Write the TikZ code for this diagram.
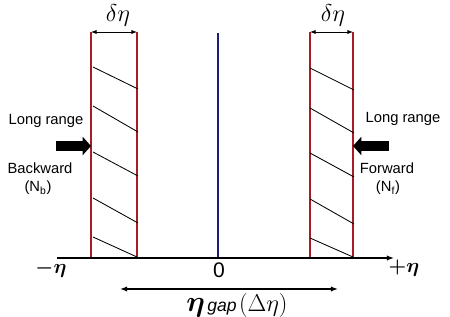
\documentclass[tikz,border=0pt]{standalone}
\usepackage{bm}
\usepackage{fontspec}
\setmainfont{Liberation Sans}
\usetikzlibrary{positioning,arrows.meta}
\definecolor{bandred}{RGB}{168,28,40}
\definecolor{midblue}{RGB}{30,30,120}

\begin{document}
\begin{tikzpicture}[x=0.25mm, y=-0.25mm,
  band/.style={draw=bandred, line width=0.8pt},
  hatch/.style={draw=black, line width=0.6pt},
  lbl/.style={font=\fontsize{10.5}{12}\selectfont, inner sep=0pt, align=center},
  mth/.style={inner sep=0pt},
  big/.style={line width=7pt, -{Triangle[length=6pt, width=13pt]}},
  wid/.style={{Latex[length=4pt]}-{Latex[length=4pt]}, line width=0.6pt},
  axisline/.style={line width=1pt, -{Latex[length=5pt]}}]
\useasboundingbox (0,0) rectangle (450,317);
% band edges and the middle line
\coordinate (ltop) at (91,32);   \coordinate (lbot) at (91,258);
\coordinate (litop) at (137,32); \coordinate (libot) at (137,258);
\coordinate (ritop) at (310,32); \coordinate (ribot) at (310,258);
\coordinate (rtop) at (353,32);  \coordinate (rbot) at (353,258);
\coordinate (mtop) at (218,33);  \coordinate (mbot) at (218,258);
\draw[band] (ltop) -- (lbot);
\draw[band] (litop) -- (libot);
\draw[band] (ritop) -- (ribot);
\draw[band] (rtop) -- (rbot);
\draw[draw=midblue, line width=0.8pt] (mtop) -- (mbot);
% hatching, backward window
\draw[hatch] (93,67) -- (138,89);
\draw[hatch] (93,106) -- (138,132);
\draw[hatch] (93,152) -- (138,176);
\draw[hatch] (93,198) -- (138,223);
\draw[hatch] (93,237) -- (137,257);
% hatching, forward window
\draw[hatch] (310,68) -- (354,90);
\draw[hatch] (310,108) -- (354,133);
\draw[hatch] (310,153) -- (354,177);
\draw[hatch] (310,199) -- (354,224);
\draw[hatch] (310,238) -- (353,257);
% window widths
\draw[wid] (ltop) -- (litop);
\draw[wid] (ritop) -- (rtop);
\node[mth, font=\fontsize{16}{18}\selectfont] (dwl) at (118,15) {$\delta\eta$};
\node[mth, font=\fontsize{16}{18}\selectfont] (dwr) at (333,15) {$\delta\eta$};
% eta axis
\coordinate (axl) at (57,258);
\coordinate (axr) at (394,258);
\draw[axisline] (axl) -- (axr);
\node[mth, font=\fontsize{14}{16}\selectfont] (negeta) at (51,269) {$\bm{-\eta}$};
\node[mth, font=\fontsize{15}{18}\selectfont] (zero) at (219,270) {0};
\node[mth, font=\fontsize{14}{16}\selectfont] (poseta) at (404,268) {$\bm{+\eta}$};
% gap
\coordinate (gapl) at (120,289);
\coordinate (gapr) at (338,289);
\draw[{Latex[length=5pt]}-{Latex[length=5pt]}, line width=1pt] (gapl) -- (gapr);
\node[mth] (gaplbl) at (237,305) {{\fontsize{20}{22}\selectfont$\bm{\eta}$}\,{\fontsize{12.5}{14}\selectfont\itshape gap}\,{\fontsize{16}{18}\selectfont$(\Delta\eta)$}};
% long range arrows
\coordinate (lrl) at (56,146);
\coordinate (lrr) at (389,146);
\draw[big] (lrl) -- (lrl -| ltop);
\draw[big] (lrr) -- (lrr -| rtop);
\node[lbl] (longl) at (46,121) {Long range};
\node[lbl] (longr) at (403,119) {Long range};
\node[lbl] (bwd) at (40,168) {Backward};
\node[lbl] (nbwd) at (38,188) {(N\textsubscript{b})};
\node[lbl] (fwd) at (387,168) {Forward};
\node[lbl] (nfwd) at (388,188) {(N\textsubscript{f})};
\end{tikzpicture}
\end{document}
